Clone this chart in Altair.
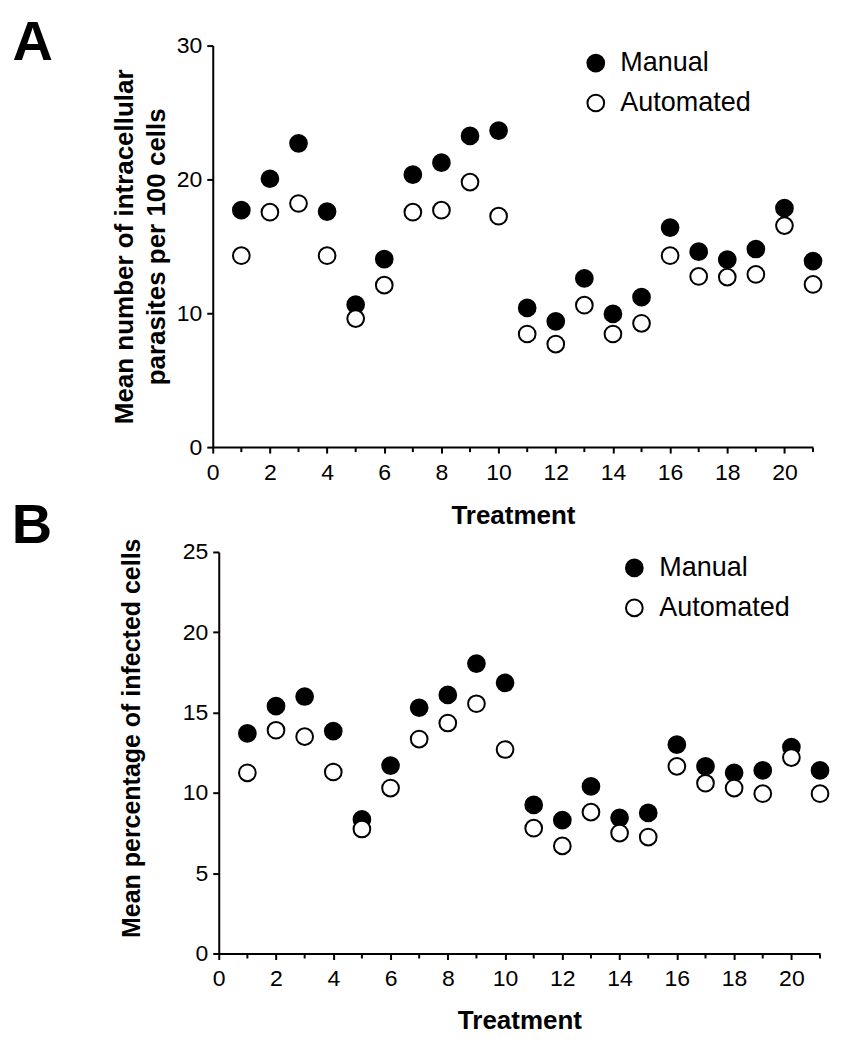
import altair as alt
import pandas as pd

FONT = "Liberation Sans"

treatments = list(range(1, 22))
methods = ["Manual", "Automated"]

a_manual = [17.7, 20.05, 22.7, 17.6, 10.65, 14.05, 20.35, 21.25, 23.25, 23.65,
            10.4, 9.4, 12.6, 9.95, 11.2, 16.4, 14.6, 14.0, 14.8, 17.85, 13.9]
a_auto = [14.3, 17.55, 18.2, 14.3, 9.6, 12.1, 17.55, 17.7, 19.8, 17.25,
          8.45, 7.7, 10.6, 8.45, 9.25, 14.3, 12.75, 12.7, 12.9, 16.55, 12.15]
b_manual = [13.7, 15.4, 16.0, 13.85, 8.35, 11.7, 15.3, 16.1, 18.05, 16.85,
            9.25, 8.3, 10.4, 8.45, 8.75, 13.0, 11.65, 11.25, 11.4, 12.85, 11.4]
b_auto = [11.25, 13.9, 13.5, 11.3, 7.75, 10.3, 13.35, 14.35, 15.55, 12.7,
          7.8, 6.7, 8.8, 7.5, 7.25, 11.65, 10.6, 10.3, 9.95, 12.2, 9.95]

x_label_values = [0, 2, 4, 6, 8, 10, 12, 14, 16, 18, 20]
x_minor_values = [1, 3, 5, 7, 9, 11, 13, 15, 17, 19, 21]
a_y_ticks = [0, 10, 20, 30]
b_y_ticks = [0, 5, 10, 15, 20, 25]

a_ytitle = ["Mean number of intracellular", "parasites per 100 cells"]
b_ytitle = "Mean percentage of infected cells"


def long_df(manual, auto):
    return pd.DataFrame({
        "treatment": treatments + treatments,
        "value": manual + auto,
        "method": ["Manual"] * len(manual) + ["Automated"] * len(auto),
    })


def panel(df, letter, ymax, yticks, ytitle, ytitle_size, ytitle_x, ytitle_y,
          xtitle_y, width, xrange, yoffset, legend_x, legend_y, label_offset,
          letter_x, letter_y):
    xscale = alt.Scale(domain=[0, 21], range=xrange, nice=False, zero=False)
    yscale = alt.Scale(domain=[0, ymax], nice=False)
    xaxis = alt.Axis(values=x_label_values, title="Treatment", tickSize=6,
                     labelPadding=8, labelFlush=False,
                     titleBaseline="alphabetic", titleY=xtitle_y)
    yaxis = alt.Axis(values=yticks, title=ytitle, tickSize=6, labelPadding=5,
                     labelFlush=False, offset=yoffset, titleX=ytitle_x,
                     titleY=ytitle_y, titleFontSize=ytitle_size,
                     titleLineHeight=32, titleBaseline="bottom")
    points = alt.Chart(df).mark_point(
        shape="circle", filled=True, size=280, stroke="black",
        strokeWidth=2, opacity=1
    ).encode(
        x=alt.X("treatment:Q", scale=xscale, axis=xaxis),
        y=alt.Y("value:Q", scale=yscale, axis=yaxis),
        fill=alt.Fill(
            "method:N",
            scale=alt.Scale(domain=methods, range=["black", "white"]),
            legend=alt.Legend(
                title=None, orient="none", legendX=legend_x, legendY=legend_y,
                labelFont=FONT, labelFontSize=27, labelColor="black",
                symbolType="circle", symbolSize=280, symbolStrokeColor="black",
                symbolStrokeWidth=2, rowPadding=12, labelOffset=label_offset,
                padding=0,
            ),
        ),
    )
    minor = alt.Chart(pd.DataFrame({
        "treatment": x_minor_values,
        "value": [0] * len(x_minor_values),
    })).mark_tick(
        orient="vertical", size=4, thickness=2, color="black", yOffset=3, opacity=1
    ).encode(
        x=alt.X("treatment:Q"),
        y=alt.Y("value:Q"),
    )
    letter_chart = alt.Chart(pd.DataFrame({"letter": [letter]})).mark_text(
        font=FONT, fontSize=56, fontWeight="bold", align="left",
        baseline="alphabetic", color="black"
    ).encode(
        text="letter:N",
        x=alt.value(letter_x),
        y=alt.value(letter_y),
    )
    return alt.layer(points, minor, letter_chart).properties(width=width, height=402)


chart_a = panel(long_df(a_manual, a_auto), "A", 30, a_y_ticks, a_ytitle, 26,
                -75.8, 201, 77, 601, [0, 601], 0, 370, 4.0, 11, -200.5, 14)
chart_b = panel(long_df(b_manual, b_auto), "B", 25, b_y_ticks, b_ytitle, 25,
                -74.4, 186, 75, 608, [6, 608], -6, 408.6, 2.5, 11.5, -201.3, -9.4)

chart = alt.vconcat(chart_a, chart_b, spacing=105, bounds="flush").resolve_scale(
    fill="independent"
).properties(
    padding={"left": 3, "top": 6, "right": 5, "bottom": 5}
).configure_axis(
    domainColor="black", domainWidth=2, tickColor="black", tickWidth=2,
    labelFont=FONT, labelFontSize=23, labelColor="black",
    titleFont=FONT, titleFontSize=26, titleFontWeight="bold", titleColor="black",
    grid=False,
).configure_view(strokeWidth=0)

chart.save("out.html", embed_options={"renderer": "svg", "actions": False})
